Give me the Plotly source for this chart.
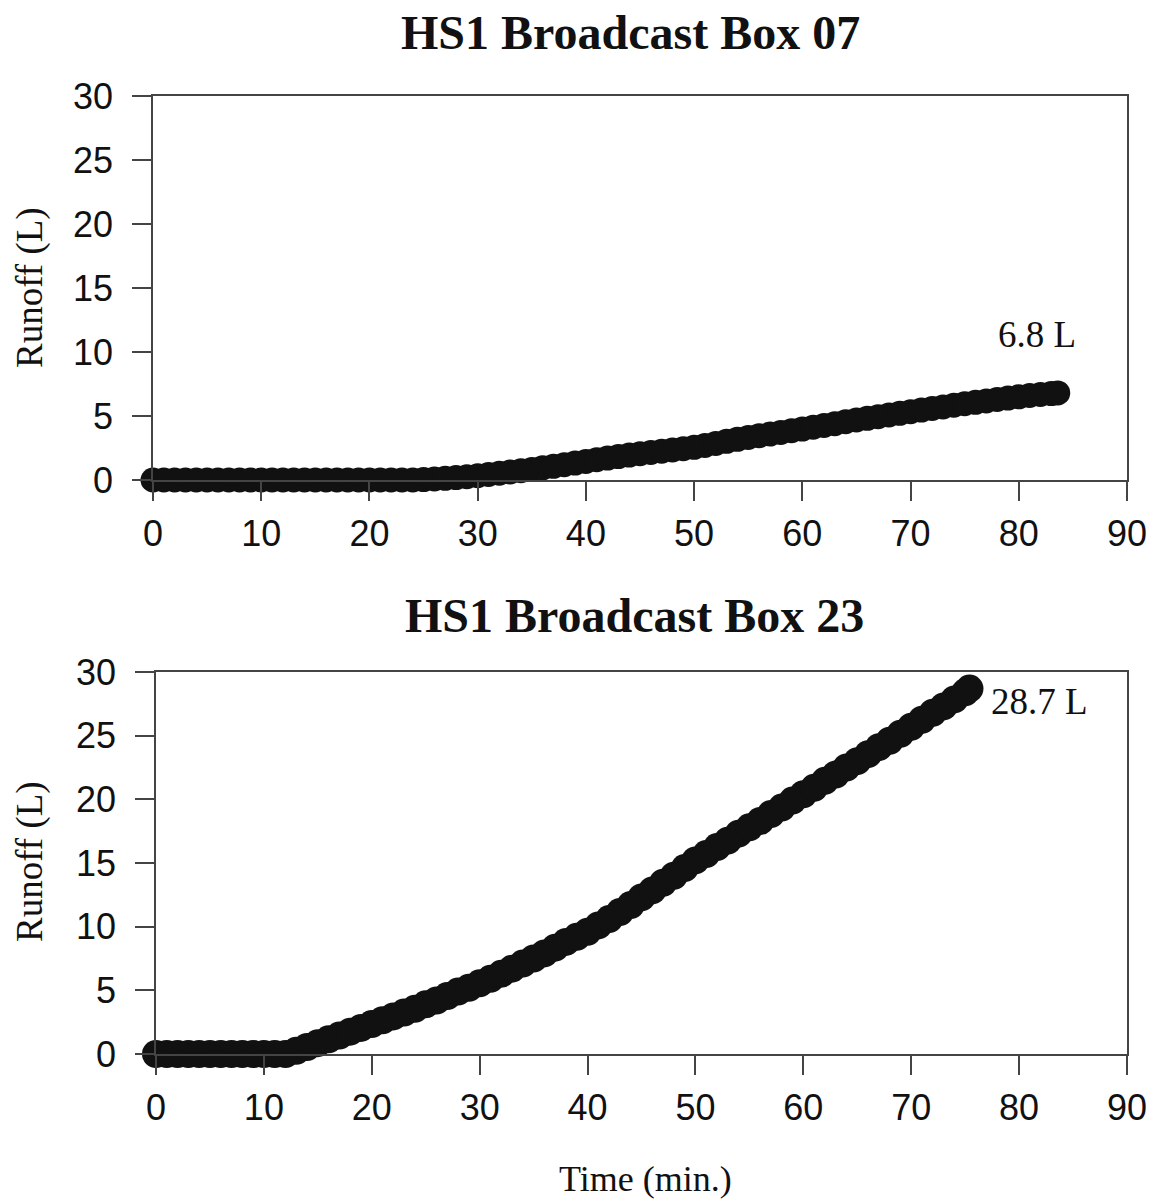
import plotly.graph_objects as go

# ---- Runoff records (time in minutes, cumulative runoff in litres) ----
box07_time = list(range(0, 84)) + [83.6]
box07_runoff = (
    [0.0] * 25
    + [0.03, 0.08, 0.13, 0.19, 0.26, 0.34, 0.43, 0.53, 0.63, 0.73,
       0.83, 0.95, 1.07, 1.20, 1.32, 1.45, 1.58, 1.71, 1.83, 1.95,
       2.05, 2.15, 2.25, 2.35, 2.45, 2.55, 2.70, 2.86, 3.02, 3.18,
       3.33, 3.46, 3.59, 3.72, 3.85, 3.98, 4.12, 4.26, 4.40, 4.55,
       4.69, 4.82, 4.95, 5.08, 5.21, 5.34, 5.46, 5.59, 5.71, 5.84,
       5.96, 6.07, 6.18, 6.29, 6.40, 6.50, 6.60, 6.68, 6.75, 6.80]
)

box23_time = list(range(0, 76)) + [75.4]
box23_runoff = (
    [0.0] * 13
    + [0.25, 0.55, 0.85, 1.15, 1.45, 1.75, 2.05, 2.35, 2.65, 2.95,
       3.25, 3.55, 3.90, 4.20, 4.55, 4.90, 5.20, 5.55, 5.90, 6.30,
       6.70, 7.10, 7.50, 7.90, 8.35, 8.80, 9.20, 9.60, 10.10, 10.60,
       11.15, 11.70, 12.30, 12.85, 13.45, 14.00, 14.60, 15.20, 15.70, 16.25,
       16.75, 17.30, 17.80, 18.30, 18.85, 19.35, 19.90, 20.40, 20.90, 21.45,
       21.95, 22.50, 23.00, 23.55, 24.10, 24.60, 25.15, 25.70, 26.25, 26.80,
       27.30, 27.85, 28.40, 28.70]
)

panel_titles = ["HS1 Broadcast Box 07", "HS1 Broadcast Box 23"]
x_ticks = [0, 10, 20, 30, 40, 50, 60, 70, 80, 90]
y_ticks = [0, 5, 10, 15, 20, 25, 30]

W, H = 1166, 1203
SANS = "Liberation Sans, Arial, sans-serif"
SERIF = "Liberation Serif, Times New Roman, serif"

fig = go.Figure()

fig.add_trace(go.Scatter(
    x=box07_time, y=box07_runoff, mode="markers", xaxis="x", yaxis="y",
    marker=dict(color="#111111", size=25, line=dict(width=0)),
    cliponaxis=False, showlegend=False,
))
fig.add_trace(go.Scatter(
    x=box23_time, y=box23_runoff, mode="markers", xaxis="x2", yaxis="y2",
    marker=dict(color="#111111", size=28, line=dict(width=0)),
    cliponaxis=False, showlegend=False,
))

axis_common = dict(
    showgrid=False, zeroline=False, showline=True, linecolor="#444444",
    linewidth=1.5, mirror=True, ticks="outside", ticklen=19, tickwidth=1.5,
    tickcolor="#444444", automargin=False,
    tickfont=dict(family=SANS, size=36, color="#111111"),
)

fig.update_layout(
    width=W, height=H,
    margin=dict(l=0, r=0, t=0, b=0, pad=0, autoexpand=False),
    paper_bgcolor="white", plot_bgcolor="white",
    xaxis=dict(domain=[153 / W, 1127 / W], range=[0, 90], tickvals=x_ticks,
               anchor="y", ticklabelstandoff=2, **axis_common),
    yaxis=dict(domain=[1 - 480 / H, 1 - 96 / H], range=[0, 30], tickvals=y_ticks,
               anchor="x", ticklabelstandoff=12, **axis_common),
    xaxis2=dict(domain=[156 / W, 1127 / W], range=[0, 90], tickvals=x_ticks,
                anchor="y2", ticklabelstandoff=2, **axis_common),
    yaxis2=dict(domain=[1 - 1054 / H, 1 - 672 / H], range=[0, 30], tickvals=y_ticks,
                anchor="x2", ticklabelstandoff=12, **axis_common),
)

annotations = []
# Panel titles
for title, ycen, xcen in [(panel_titles[0], 33, 630), (panel_titles[1], 615, 634)]:
    annotations.append(dict(
        text=f"<b>{title}</b>", xref="paper", yref="paper",
        x=xcen / W, y=1 - ycen / H, xanchor="center", yanchor="middle",
        showarrow=False, font=dict(family=SERIF, size=48, color="#111111"),
    ))
# Y-axis titles
for ycen in [288, 862]:
    annotations.append(dict(
        text="Runoff (L)", xref="paper", yref="paper", x=30 / W, y=1 - ycen / H,
        xanchor="center", yanchor="middle", textangle=-90, showarrow=False,
        font=dict(family=SERIF, size=37, color="#111111"),
    ))
# X-axis title
annotations.append(dict(
    text="Time (min.)", xref="paper", yref="paper", x=645 / W, y=1 - 1179 / H,
    xanchor="center", yanchor="middle", showarrow=False,
    font=dict(family=SERIF, size=36, color="#111111"),
))
# Final runoff labels next to the last record of each run
annotations.append(dict(
    text=f"{box07_runoff[-1]} L", xref="x", yref="y",
    x=box07_time[-1], y=box07_runoff[-1], xshift=-21, yshift=58,
    xanchor="center", yanchor="middle", showarrow=False,
    font=dict(family=SERIF, size=37, color="#111111"),
))
annotations.append(dict(
    text=f"{box23_runoff[-1]} L", xref="x2", yref="y2",
    x=box23_time[-1], y=box23_runoff[-1], xshift=70, yshift=-13,
    xanchor="center", yanchor="middle", showarrow=False,
    font=dict(family=SERIF, size=37, color="#111111"),
))
fig.update_layout(annotations=annotations)

fig.write_html("out.html")
